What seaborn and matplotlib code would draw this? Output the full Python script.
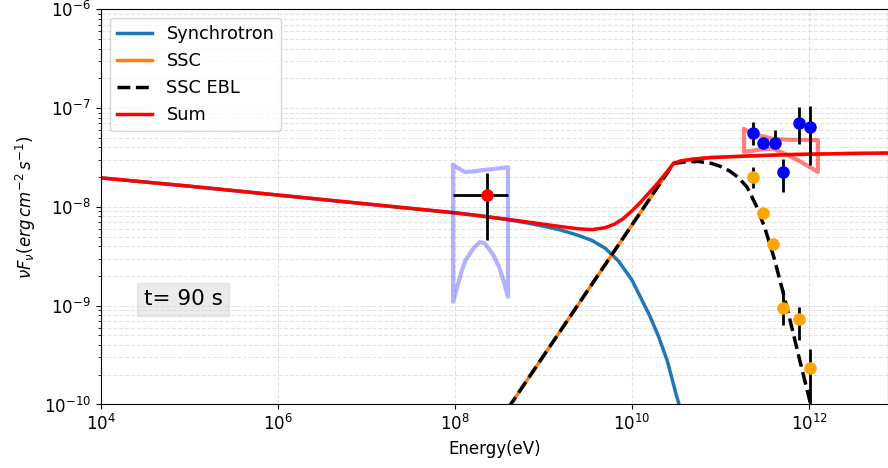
import numpy as np
import pandas as pd
import seaborn as sns
import matplotlib
matplotlib.use("Agg")
import matplotlib.pyplot as plt

plt.rcParams['font.size'] = 12

# model curves (log10 E [eV], log10 vFv)
sync_logE = [4.0, 5.0, 6.0, 7.0, 8.0, 8.3, 8.6, 8.8, 9.0, 9.2, 9.4, 9.55, 9.7, 9.85, 10.0,
             10.1, 10.2, 10.3, 10.4, 10.5, 10.58]
sync_logF = [-7.706, -7.79, -7.88, -7.97, -8.06, -8.09, -8.13, -8.16, -8.195, -8.235, -8.29, -8.34,
             -8.42, -8.55, -8.74, -8.92, -9.10, -9.31, -9.56, -9.90, -10.15]

ssc_logE = [8.0, 8.63, 10.47, 10.55, 10.7, 10.9, 11.3, 11.8, 12.4, 12.9]
ssc_logF = [-10.84, -10.0, -7.56, -7.535, -7.515, -7.50, -7.485, -7.47, -7.46, -7.455]

ebl_logE = [8.0, 8.63, 10.47, 10.6, 10.75, 10.9, 11.0, 11.1, 11.2, 11.3, 11.4, 11.5, 11.6,
            11.7, 11.8, 11.9, 12.0, 12.1]
ebl_logF = [-10.84, -10.0, -7.56, -7.545, -7.54, -7.56, -7.59, -7.635, -7.70, -7.80, -7.98,
            -8.21, -8.50, -8.84, -9.20, -9.57, -9.93, -10.3]

sum_logE = [4.0, 5.0, 6.0, 7.0, 8.0, 8.5, 8.8, 9.0, 9.2, 9.4, 9.55, 9.7, 9.8, 9.9, 10.0, 10.1,
            10.2, 10.3, 10.4, 10.47, 10.55, 10.7, 10.9, 11.3, 11.8, 12.4, 12.9]
sum_logF = [-7.706, -7.79, -7.88, -7.97, -8.06, -8.115, -8.15, -8.175, -8.20, -8.222, -8.23,
            -8.21, -8.175, -8.12, -8.04, -7.95, -7.85, -7.75, -7.64, -7.56, -7.535, -7.515,
            -7.50, -7.485, -7.47, -7.46, -7.455]

# butterflies
bf_blue_logE = [7.98, 8.08, 8.12, 8.21, 8.28, 8.34, 8.43, 8.50, 8.56, 8.60]
bf_blue_up = [-7.578, -7.63, -7.648, -7.64, -7.632, -7.625, -7.616, -7.61, -7.603, -7.598]
bf_blue_lo = [-8.96, -8.64, -8.54, -8.42, -8.355, -8.37, -8.48, -8.61, -8.78, -8.91]

bf_red_logE = [11.266, 11.45, 11.59, 11.75, 11.9, 12.10]
bf_red_up = [-7.216, -7.28, -7.31, -7.32, -7.322, -7.324]
bf_red_lo = [-7.443, -7.42, -7.41, -7.47, -7.54, -7.645]

# data points
red_logE = [8.36]
red_logF = [-7.882]
red_xlo, red_xhi = [7.98], [8.60]
red_ylo, red_yhi = [-8.337], [-7.656]

blue_logE = [11.371, 11.477, 11.616, 11.71, 11.883, 12.011]
blue_logF = [-7.250, -7.358, -7.358, -7.645, -7.149, -7.190]
blue_ylo = [-7.375, -7.40, -7.38, -7.848, -7.365, -7.578]
blue_yhi = [-7.142, -7.32, -7.223, -7.517, -6.987, -6.980]

orng_logE = [11.371, 11.48, 11.597, 11.71, 11.883, 12.011]
orng_logF = [-7.702, -8.06, -8.371, -9.019, -9.135, -9.627]
orng_ylo = [-7.81, -8.10, -8.41, -9.199, -9.351, -10.2]
orng_yhi = [-7.595, -8.02, -8.33, -8.844, -9.013, -9.434]


def p(a):
    return 10 ** np.asarray(a, dtype=float)


fig = plt.figure(figsize=(8.88, 4.68), dpi=100)
ax = fig.add_axes([0.1134, 0.1357, 0.8866, 0.8444])
ax.set_xscale('log')
ax.set_yscale('log')

sns.lineplot(x=p(sync_logE), y=p(sync_logF), ax=ax, color='#1f77b4', lw=2.5,
             label='Synchrotron', sort=False, estimator=None)
sns.lineplot(x=p(ssc_logE), y=p(ssc_logF), ax=ax, color='#ff7f0e', lw=2.5,
             label='SSC', sort=False, estimator=None)
sns.lineplot(x=p(ebl_logE), y=p(ebl_logF), ax=ax, color='black', lw=2.5, linestyle='--',
             label='SSC EBL', sort=False, estimator=None)
sns.lineplot(x=p(sum_logE), y=p(sum_logF), ax=ax, color='red', lw=2.5,
             label='Sum', sort=False, estimator=None)

# butterfly outlines
bx = bf_blue_logE + bf_blue_logE[::-1] + bf_blue_logE[:1]
by = bf_blue_up + bf_blue_lo[::-1] + bf_blue_up[:1]
ax.plot(p(bx), p(by), color='blue', alpha=0.3, lw=3)
rx = bf_red_logE + bf_red_logE[::-1] + bf_red_logE[:1]
ry = bf_red_up + bf_red_lo[::-1] + bf_red_up[:1]
ax.plot(p(rx), p(ry), color='red', alpha=0.5, lw=3)


# points with error bars
def errs(v, lo, hi):
    v, lo, hi = p(v), p(lo), p(hi)
    return [v - lo, hi - v]


ax.errorbar(p(red_logE), p(red_logF), yerr=errs(red_logF, red_ylo, red_yhi),
            xerr=errs(red_logE, red_xlo, red_xhi), fmt='o', color='red', ms=8,
            ecolor='black', elinewidth=2, zorder=5)
ax.errorbar(p(blue_logE), p(blue_logF), yerr=errs(blue_logF, blue_ylo, blue_yhi),
            fmt='o', color='blue', ms=8, ecolor='black', elinewidth=2, zorder=5)
ax.errorbar(p(orng_logE), p(orng_logF), yerr=errs(orng_logF, orng_ylo, orng_yhi),
            fmt='o', color='orange', ms=8, ecolor='black', elinewidth=2, zorder=5)

ax.set_xlim(1e4, 10 ** 12.892)
ax.set_ylim(1e-10, 1e-6)
ax.set_xticks([1e4, 1e6, 1e8, 1e10, 1e12])
ax.xaxis.set_minor_locator(matplotlib.ticker.NullLocator())
ax.grid(True, which='both', linestyle='--', alpha=0.35)

ax.set_xlabel('Energy(eV)')
ax.set_ylabel(r'$\nu F_{\nu} (erg\, cm^{-2}\, s^{-1})$')

ax.text(0.1045, 0.266, 't= 90 s', transform=ax.transAxes, fontsize=15.5,
        ha='center', va='center',
        bbox=dict(facecolor='lightgray', alpha=0.45, edgecolor='lightgray', boxstyle='square,pad=0.3'))

ax.legend(loc='upper left', fontsize=12.8)

fig.savefig('out.png', dpi=100)
